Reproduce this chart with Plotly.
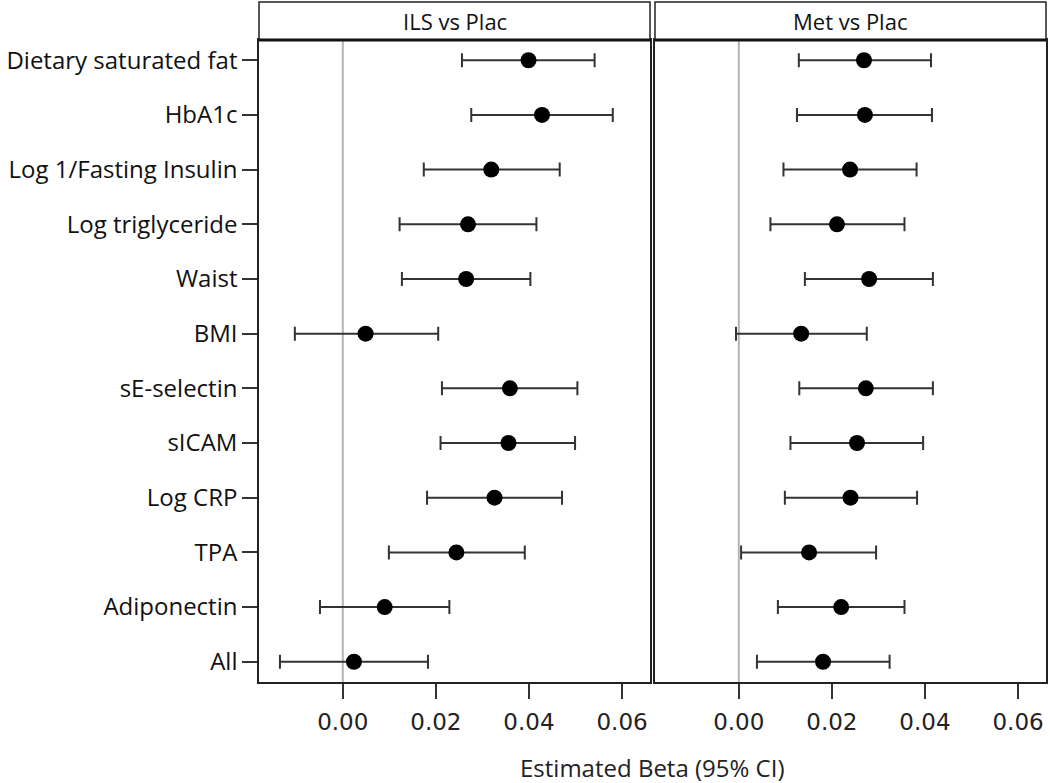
import plotly.graph_objects as go
from plotly.subplots import make_subplots

# rows, bottom to top
outcomes = ['All', 'Adiponectin', 'TPA', 'Log CRP', 'sICAM', 'sE-selectin',
            'BMI', 'Waist', 'Log triglyceride', 'Log 1/Fasting Insulin',
            'HbA1c', 'Dietary saturated fat']

# ILS vs Plac
ils_est = [0.0024, 0.0090, 0.0244, 0.0326, 0.0356, 0.0359,
           0.0049, 0.0265, 0.0269, 0.0319, 0.0428, 0.0399]
ils_lo = [-0.0135, -0.0049, 0.0099, 0.0181, 0.0210, 0.0213,
          -0.0103, 0.0127, 0.0122, 0.0174, 0.0276, 0.0256]
ils_hi = [0.0183, 0.0229, 0.0391, 0.0471, 0.0499, 0.0504,
          0.0205, 0.0403, 0.0416, 0.0466, 0.0580, 0.0541]

# Met vs Plac
met_est = [0.0181, 0.0220, 0.0151, 0.0240, 0.0254, 0.0273,
           0.0134, 0.0280, 0.0211, 0.0239, 0.0271, 0.0269]
met_lo = [0.0039, 0.0084, 0.0005, 0.0099, 0.0111, 0.0130,
          -0.0006, 0.0142, 0.0068, 0.0096, 0.0125, 0.0129]
met_hi = [0.0324, 0.0356, 0.0295, 0.0383, 0.0396, 0.0417,
          0.0275, 0.0417, 0.0356, 0.0382, 0.0415, 0.0413]

panels = [('ILS vs Plac', ils_est, ils_lo, ils_hi),
          ('Met vs Plac', met_est, met_lo, met_hi)]

FONT = 'Open Sans'
W, H = 1050, 783
ml, mr, mt, mb = 259, 2, 40, 101
pw = W - ml - mr
ph = H - mt - mb
gap = 5 / pw

fig = make_subplots(rows=1, cols=2, shared_yaxes=True, horizontal_spacing=gap)

for i, (name, est, lo, hi) in enumerate(panels, start=1):
    # zero reference line
    fig.add_trace(go.Scatter(
        x=[0, 0], y=[-0.5, 11.5], mode='lines',
        line=dict(color='#b4b4b4', width=2), hoverinfo='skip', showlegend=False
    ), row=1, col=i)
    fig.add_trace(go.Scatter(
        x=est, y=list(range(len(outcomes))), mode='markers',
        marker=dict(color='black', size=16),
        error_x=dict(type='data', symmetric=False,
                     array=[h - e for h, e in zip(hi, est)],
                     arrayminus=[e - l for e, l in zip(est, lo)],
                     color='#333333', thickness=2, width=7),
        showlegend=False
    ), row=1, col=i)

fig.update_xaxes(
    range=[-0.018, 0.066], tickvals=[0, 0.02, 0.04, 0.06],
    ticktext=['0.00', '0.02', '0.04', '0.06'],
    showgrid=False, zeroline=False, showline=True, linecolor='#222',
    linewidth=1.5, mirror=True, ticks='outside', ticklen=15, tickwidth=2,
    tickcolor='#333', ticklabelstandoff=4,
    tickfont=dict(family='DejaVu Sans', size=23, color='#222')
)
fig.update_yaxes(
    range=[-0.37, 11.37], tickvals=list(range(len(outcomes))), ticktext=outcomes,
    showgrid=False, zeroline=False, showline=True, linecolor='#222',
    linewidth=1.5, mirror=True, ticks='outside', ticklen=15, tickwidth=1.5,
    tickcolor='#333', tickfont=dict(family=FONT, size=24, color='#111')
)
fig.update_yaxes(ticks='', showticklabels=False, row=1, col=2)

# header strips
strip_top = 1 + 38 / ph
for i, (name, *_rest) in enumerate(panels, start=1):
    xa = fig.layout['xaxis' if i == 1 else 'xaxis2']
    d0, d1 = xa.domain
    fig.add_shape(type='rect', xref='paper', yref='paper', x0=d0, x1=d1,
                  y0=1, y1=strip_top, line=dict(color='#222', width=1.5),
                  fillcolor='white', layer='above')
    fig.add_shape(type='line', xref='paper', yref='paper', x0=d0, x1=d1,
                  y0=1, y1=1, line=dict(color='#111', width=3))
    fig.add_annotation(text=name, xref='paper', yref='paper', x=(d0 + d1) / 2,
                       y=(1 + strip_top) / 2, xanchor='center', yanchor='middle',
                       showarrow=False,
                       font=dict(family=FONT, size=22, color='#111'))

fig.add_annotation(text='Estimated Beta (95% CI)', xref='paper', yref='paper',
                   x=0.5, y=-(768 - (H - mb)) / ph, yanchor='middle',
                   showarrow=False,
                   font=dict(family=FONT, size=24, color='#222'))

fig.update_layout(
    width=W, height=H, margin=dict(l=ml, r=mr, t=mt, b=mb),
    plot_bgcolor='white', paper_bgcolor='white', showlegend=False
)

fig.write_html('out.html', config={'displayModeBar': False},
               post_script="document.body.style.margin='0';")
